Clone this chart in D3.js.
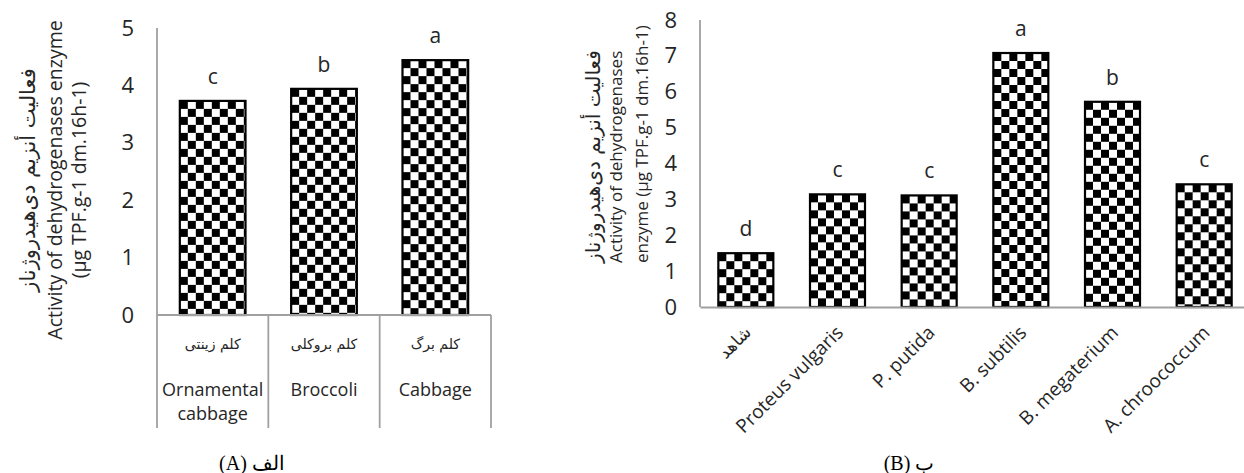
<!DOCTYPE html>
<html>
<head>
<meta charset="utf-8">
<script src="https://cdn.jsdelivr.net/npm/d3@7/dist/d3.min.js"></script>
<style>
  body { margin: 0; background: #fff; }
  svg { display: block; }
  text { font-family: "Open Sans", sans-serif; fill: #262626; }
  .fa { font-family: "DejaVu Sans", sans-serif; }
  .cap { font-family: "Liberation Serif", serif; fill: #000; }
</style>
</head>
<body>
<svg id="chart" width="1244" height="473"></svg>
<script>
// chart A (left)
const catsA_fa = ['کلم زینتی', 'کلم بروکلی', 'کلم برگ'];
const catsA_en = [['Ornamental', 'cabbage'], ['Broccoli'], ['Cabbage']];
const valuesA = [3.73, 3.94, 4.44];
const lettersA = ['c', 'b', 'a'];
const ticksA = [0, 1, 2, 3, 4, 5];

// chart B (right)
const catsB = ['شاهد', 'Proteus vulgaris', 'P. putida', 'B. subtilis', 'B. megaterium', 'A. chroococcum'];
const valuesB = [1.5, 3.14, 3.11, 7.08, 5.72, 3.42];
const lettersB = ['d', 'c', 'c', 'a', 'b', 'c'];
const ticksB = [0, 1, 2, 3, 4, 5, 6, 7, 8];

const titleFa = 'فعالیت أنزیم دی‌هیدروژناز';
const axisColor = '#a0a0a0';
const cell = 8;

const svg = d3.select('#chart');
const defs = svg.append('defs');

// checkerboard pattern, one per bar so that it starts at the bar corner
const addPattern = (id, x0, y0) => {
  let p = defs.append('pattern')
    .attr('id', id)
    .attr('patternUnits', 'userSpaceOnUse')
    .attr('x', x0).attr('y', y0)
    .attr('width', cell * 2).attr('height', cell * 2);
  p.append('rect').attr('width', cell * 2).attr('height', cell * 2).attr('fill', '#fff');
  p.append('rect').attr('width', cell).attr('height', cell).attr('fill', '#000');
  p.append('rect').attr('x', cell).attr('y', cell).attr('width', cell).attr('height', cell).attr('fill', '#000');
};

const drawBars = (g, data, x, y, prefix) => {
  data.forEach((v, i) => addPattern(prefix + i, x(i), y(v)));
  g.selectAll('rect.bar')
    .data(data)
    .enter()
      .append('rect')
        .attr('class', 'bar')
        .attr('x', (d, i) => x(i))
        .attr('y', d => y(d))
        .attr('width', x.bandwidth())
        .attr('height', d => y(0) - y(d))
        .attr('fill', (d, i) => `url(#${prefix}${i})`)
        .attr('stroke', '#000')
        .attr('stroke-width', 2.2);
};

const drawLetters = (g, data, letters, x, y) => {
  g.selectAll('text.letter')
    .data(data)
    .enter()
      .append('text')
        .attr('class', 'letter')
        .attr('x', (d, i) => x(i) + x.bandwidth() / 2)
        .attr('y', d => y(d) - 17)
        .attr('text-anchor', 'middle')
        .style('font-size', '21px')
        .text((d, i) => letters[i]);
};

const drawYAxis = (g, y, ticks, x0) => {
  g.append('g')
    .attr('transform', `translate(${x0},0)`)
    .call(d3.axisLeft(y).tickValues(ticks).tickSize(0).tickPadding(23).tickFormat(d3.format('d')))
    .call(a => a.select('.domain').remove())
    .selectAll('text')
      .style('font-size', '22px')
      .style('font-family', '"Open Sans", sans-serif')
      .attr('fill', '#262626');
};

// ---------- chart A ----------
const idxA = valuesA.map((d, i) => i);
const xA = d3.scaleBand().domain(idxA).range([157, 491]).paddingInner(0.41).paddingOuter(0.205);
const yA = d3.scaleLinear().domain([0, 5]).range([315, 28]);
const tableBottomA = 428;
const gA = svg.append('g');

drawBars(gA, valuesA, xA, yA, 'patA');
drawLetters(gA, valuesA, lettersA, xA, yA);
drawYAxis(gA, yA, ticksA, 157);

// axis lines and category table
gA.append('line')
  .attr('x1', 157).attr('x2', 157)
  .attr('y1', yA(5)).attr('y2', tableBottomA)
  .attr('stroke', axisColor).attr('stroke-width', 1.8);
gA.append('line')
  .attr('x1', 157).attr('x2', 491)
  .attr('y1', yA(0)).attr('y2', yA(0))
  .attr('stroke', axisColor).attr('stroke-width', 1.8);
gA.selectAll('line.sep')
  .data(idxA)
  .enter()
    .append('line')
      .attr('class', 'sep')
      .attr('x1', d => xA(d) + xA.bandwidth() + xA.step() * 0.205)
      .attr('x2', d => xA(d) + xA.bandwidth() + xA.step() * 0.205)
      .attr('y1', yA(0)).attr('y2', tableBottomA)
      .attr('stroke', axisColor).attr('stroke-width', 1.8);

gA.selectAll('text.catfa')
  .data(catsA_fa)
  .enter()
    .append('text')
      .attr('class', 'catfa fa')
      .attr('x', (d, i) => xA(i) + xA.bandwidth() / 2)
      .attr('y', 349)
      .attr('text-anchor', 'middle')
      .style('font-size', '14px')
      .attr('fill', '#000')
      .text(d => d);

gA.selectAll('text.caten')
  .data(catsA_en)
  .enter()
    .append('text')
      .attr('class', 'caten')
      .attr('x', (d, i) => xA(i) + xA.bandwidth() / 2)
      .attr('y', 396)
      .attr('text-anchor', 'middle')
      .style('font-size', '18px')
      .selectAll('tspan')
      .data(d => d)
      .enter()
        .append('tspan')
          .attr('x', function() { return this.parentNode.getAttribute('x'); })
          .attr('dy', (d, j) => j === 0 ? 0 : 24)
          .text(d => d);

// y title A
const titleA = gA.append('text')
  .attr('transform', 'translate(0,180) rotate(-90)')
  .attr('text-anchor', 'middle')
  .style('font-size', '19.5px');
titleA.append('tspan').attr('class', 'fa').attr('x', 0).attr('y', 35).style('font-size', '21px').text(titleFa);
titleA.append('tspan').attr('x', 0).attr('y', 62).text('Activity of dehydrogenases enzyme');
titleA.append('tspan').attr('x', 0).attr('y', 86).text('(μg TPF.g-1 dm.16h-1)');

svg.append('text')
  .attr('class', 'cap')
  .attr('x', 252).attr('y', 470)
  .attr('text-anchor', 'middle')
  .style('font-size', '20px')
  .text('(A) الف');

// ---------- chart B ----------
const idxB = valuesB.map((d, i) => i);
const xB = d3.scaleBand().domain(idxB).range([700, 1250]).paddingInner(0.4).paddingOuter(0.2);
const yB = d3.scaleLinear().domain([0, 8]).range([307, 20]);
const gB = svg.append('g');

drawBars(gB, valuesB, xB, yB, 'patB');
drawLetters(gB, valuesB, lettersB, xB, yB);
drawYAxis(gB, yB, ticksB, 700);

gB.append('line')
  .attr('x1', 700).attr('x2', 700)
  .attr('y1', yB(8)).attr('y2', yB(0))
  .attr('stroke', axisColor).attr('stroke-width', 1.8);

gB.append('g')
  .attr('transform', `translate(0,${yB(0)})`)
  .call(d3.axisBottom(xB).tickSize(0).tickSizeOuter(0).tickFormat(i => catsB[i]))
  .call(a => a.select('.domain').attr('stroke', axisColor).attr('stroke-width', 1.8))
  .selectAll('text')
    .attr('class', (d, i) => i === 0 ? 'fa' : null)
    .style('font-size', (d, i) => i === 0 ? '17px' : '19px')
    .style('font-family', (d, i) => i === 0 ? '"DejaVu Sans", sans-serif' : '"Open Sans", sans-serif')
    .attr('fill', '#262626')
    .attr('text-anchor', 'end')
    .attr('dy', '0.35em')
    .attr('transform', 'translate(0,20) rotate(-45)');

const titleB = gB.append('text')
  .attr('transform', 'translate(0,263) rotate(-90)')
  .attr('text-anchor', 'start')
  .style('font-size', '17px');
titleB.append('tspan').attr('class', 'fa').attr('x', 0).attr('y', 600).style('font-size', '20px').text(titleFa);
titleB.append('tspan').attr('x', 0).attr('y', 622).text('Activity of dehydrogenases');
titleB.append('tspan').attr('x', 0).attr('y', 648).text('enzyme (μg TPF.g-1 dm.16h-1)');

svg.append('text')
  .attr('class', 'cap')
  .attr('x', 909).attr('y', 470)
  .attr('text-anchor', 'middle')
  .style('font-size', '20px')
  .text('(B) ب');
</script>
</body>
</html>
